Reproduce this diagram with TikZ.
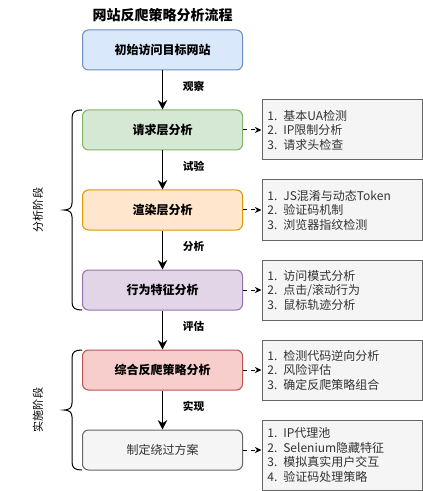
\documentclass[tikz,border=0pt]{standalone}
\usepackage{fontspec}
\setmainfont{Noto Sans CJK SC}
\usetikzlibrary{arrows.meta}

\definecolor{blueFill}{HTML}{DAE8FC}
\definecolor{blueLine}{HTML}{6C8EBF}
\definecolor{greenFill}{HTML}{D5E8D4}
\definecolor{greenLine}{HTML}{82B366}
\definecolor{orangeFill}{HTML}{FFE6CC}
\definecolor{orangeLine}{HTML}{D79B00}
\definecolor{purpleFill}{HTML}{E1D5E7}
\definecolor{purpleLine}{HTML}{9673A6}
\definecolor{redFill}{HTML}{F8CECC}
\definecolor{redLine}{HTML}{B85450}
\definecolor{grayFill}{HTML}{F5F5F5}
\definecolor{grayLine}{HTML}{666666}
\definecolor{grayText}{HTML}{333333}

\tikzset{every picture/.style={line width=0.75pt}}
\tikzset{
  stage/.style={draw, rounded corners=4.5pt, minimum width=120pt, minimum height=30pt, inner sep=0.75pt, font=\fontsize{9}{11}\selectfont\bfseries},
  note/.style={draw=grayLine, fill=grayFill, minimum width=120pt, minimum height=45pt, text width=112pt, inner xsep=3.75pt, align=left, text=grayText, font=\fontsize{9}{10.9}\selectfont},
  flow/.style={-{Stealth[length=7pt,width=7pt]}, line width=1.1pt},
  hint/.style={-{Stealth[length=5pt,width=4.5pt]}, dash pattern=on 3pt off 3pt},
  verb/.style={anchor=west, inner sep=0.75pt, xshift=14pt, yshift=3pt, font=\fontsize{8}{10}\selectfont\bfseries},
  phase/.style={rotate=90, inner sep=0.75pt, font=\fontsize{8.3}{10}\selectfont}
}

\begin{document}
\begin{tikzpicture}[x=0.75pt,y=0.75pt,yscale=-1,xscale=1]

\useasboundingbox (0,0) rectangle (423,491);

\node (title) at (162.5,15) [inner sep=0.75pt, font=\fontsize{10.5}{12}\selectfont\bfseries] {网站反爬策略分析流程};

\node (visit) at (162.5,50) [stage, fill=blueFill, draw=blueLine] {初始访问目标网站};
\node (request) at (162.5,130) [stage, fill=greenFill, draw=greenLine] {请求层分析};
\node (render) at (162.5,210) [stage, fill=orangeFill, draw=orangeLine] {渲染层分析};
\node (behavior) at (162.5,290) [stage, fill=purpleFill, draw=purpleLine] {行为特征分析};
\node (combine) at (162.5,370) [stage, fill=redFill, draw=redLine] {综合反爬策略分析};
\node (bypass) at (162.5,450) [stage, fill=grayFill, draw=grayLine, text=grayText, font=\fontsize{9}{11}\selectfont] {制定绕过方案};

\node (requestnote) at (342,130) [note] {1. 基本UA检测\\2. IP限制分析\\3. 请求头检查};
\node (rendernote) at (342,210) [note] {1. JS混淆与动态Token\\2. 验证码机制\\3. 浏览器指纹检测};
\node (behaviornote) at (342,290) [note] {1. 访问模式分析\\2. 点击/滚动行为\\3. 鼠标轨迹分析};
\node (combinenote) at (342,370) [note] {1. 检测代码逆向分析\\2. 风险评估\\3. 确定反爬策略组合};
\node (bypassnote) at (342,455) [note, minimum height=52.5pt] {1. IP代理池\\2. Selenium隐藏特征\\3. 模拟真实用户交互\\4. 验证码处理策略};

\draw [flow] (visit) -- (request) node [midway, verb] {观察};
\draw [flow] (request) -- (render) node [midway, verb] {试验};
\draw [flow] (render) -- (behavior) node [midway, verb] {分析};
\draw [flow] (behavior) -- (combine) node [midway, verb] {评估};
\draw [flow] (combine) -- (bypass) node [midway, verb] {实现};

\draw [hint] (request) -- (requestnote);
\draw [hint] (render) -- (rendernote);
\draw [hint] (behavior) -- (behaviornote);
\draw [hint] (combine) -- (combinenote);
\draw [hint] (bypass.east) -- (bypass.east -| bypassnote.west);

\draw (82,110) .. controls (75,110) and (72,112) .. (72,118) -- (72,203) .. controls (72,208) and (69,210) .. (64,210) .. controls (69,210) and (72,212) .. (72,217) -- (72,302) .. controls (72,308) and (75,310) .. (82,310);
\draw (82,350) .. controls (75,350) and (72,352) .. (72,358) -- (72,403) .. controls (72,408) and (69,410) .. (64,410) .. controls (69,410) and (72,412) .. (72,417) -- (72,462) .. controls (72,468) and (75,470) .. (82,470);

\node (analysis) at (38,210) [phase] {分析阶段};
\node (practice) at (38,410) [phase] {实施阶段};

\end{tikzpicture}
\end{document}
